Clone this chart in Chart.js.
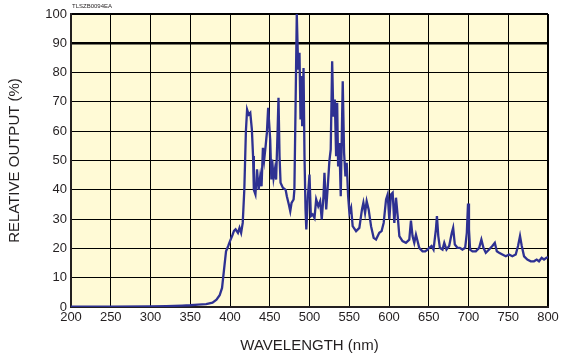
<!DOCTYPE html>
<html>
<head>
<meta charset="utf-8">
<script src="https://cdn.jsdelivr.net/npm/chart.js@4.4.1/dist/chart.umd.min.js"></script>
<style>
  body { margin: 0; background: #fff; }
  #wrap { width: 563px; height: 355px; }
</style>
</head>
<body>
<div id="wrap"><canvas id="spectre" width="563" height="355"></canvas></div>
<script>
// Longueurs d'onde (nm) et sortie relative (%)
const wavelengths = [
  200, 250, 300, 320, 340, 350, 360, 370, 378, 383, 387, 390, 393, 395, 398, 400,
  403, 405, 407, 410, 412, 414, 416, 418, 420, 421.5, 423.5, 425.5, 427.5, 429, 430,
  432, 434, 436, 438, 439.7, 441.4, 443, 444.8, 446.4, 448, 450.6, 452, 453, 454.8,
  456.5, 458, 459.8, 461, 462.3, 463.6, 466.5, 470, 471.5, 474, 475.8, 477.4, 480,
  481, 482.4, 484, 485.8, 487.4, 488.7, 490, 490.8, 492.5, 493.7, 495, 496, 498, 500,
  501.7, 504, 506.3, 508.4, 511, 513.4, 515.4, 517.6, 518.8, 521, 523, 525, 526.7,
  528.5, 530, 531.8, 533.5, 534.8, 536, 537.6, 539.3, 541.8, 543.5, 545.2, 546.8,
  548.6, 550.2, 552.3, 554.3, 558.6, 562.7, 566, 567.8, 569.9, 571.9, 574.4, 577.4,
  580.7, 583.7, 587.8, 590.7, 593.3, 596.3, 598.3, 600.4, 602.5, 604.6, 606.7, 608.8,
  611.3, 613, 617, 621.3, 625.5, 627.6, 629.6, 631.8, 633.9, 635.9, 638, 642.2, 645.6,
  648.5, 650.6, 653.5, 656, 659, 660.3, 662, 664, 667.3, 669.5, 672.3, 675.7, 679,
  680.7, 682.8, 686.1, 689, 692.4, 695.8, 697.9, 699.4, 700.6, 702, 705, 709.2, 713.4,
  716.2, 718.8, 721.8, 725.9, 730, 733.1, 735.6, 738.5, 742.6, 746.9, 751, 755.2,
  759.4, 762.3, 764.8, 767, 769.9, 774, 778.3, 782.4, 785.8, 788.7, 792, 795, 798, 800
];
const relativeOutput = [
  0.1, 0.1, 0.2, 0.3, 0.5, 0.6, 0.8, 1.0, 1.5, 2.5, 4, 6.5, 14, 19, 21, 22.5,
  24.5, 26, 26.5, 25.3, 27, 25.3, 28.7, 40, 60, 67.4, 65.7, 66.3, 60.6, 51.5, 40,
  38.4, 47, 40, 44.6, 41.2, 54.3, 50.3, 54.9, 59.5, 68, 57, 43.5, 50.3, 44,
  47, 43.5, 59.5, 71.4, 51.5, 42.4, 40.7, 40, 37.8, 35, 32.7, 35.5, 36.7,
  40, 67, 100, 81, 86.8, 64, 78.8, 61.7, 81.6, 51.5, 33.3, 26.5, 37.8, 45.2,
  31, 31.6, 30.4, 36.7, 34.4, 36.1, 29.9, 37.8, 45.8, 33.3, 41.2, 49.8, 53.8,
  83.9, 65, 70.8, 51.5, 69.7, 48, 56, 37.8, 77, 52.6, 44.6, 49.2,
  37.8, 32.1, 33.9, 27.6, 25.9, 27, 33.3, 35.6, 32.1, 36.1, 33.3, 27.6,
  23.6, 23, 25.3, 25.9, 28.7, 36.7, 38.4, 29.9, 38.4, 39, 28.7, 37.3,
  29.9, 24.2, 22.5, 21.9, 23, 29.5, 24.2, 21.9, 24.7, 22.5, 20.2, 19, 19,
  19.6, 20.2, 20.8, 19.6, 26.5, 31, 24.2, 20.2, 19.6, 21.9, 19.6, 20.8, 25.3,
  27, 21.3, 20.2, 20.2, 19.6, 20.2, 25.3, 35.3, 26.5, 19.6, 19, 19, 20.2,
  23, 20.2, 18.5, 19.6, 20.8, 21.9, 19, 18.5, 17.9, 17.3, 17.9, 17.3,
  17.9, 20.8, 24.2, 20.8, 17.3, 16.2, 15.6, 15.6, 16.2, 15.6, 16.8, 16.2, 16.8, 17
];
const xTicks = [200, 250, 300, 350, 400, 450, 500, 550, 600, 650, 700, 750, 800];
const yTicks = [0, 10, 20, 30, 40, 50, 60, 70, 80, 90, 100];

const couleurTrait = '#2e3192';
const couleurTexte = '#231f20';

// Fond jaune pâle de la zone de tracé + référence du document
const fondZone = {
    id: 'fondZone',
    beforeDraw(chart) {
        const { ctx, chartArea: a } = chart;
        ctx.save();
        ctx.fillStyle = '#fffad6';
        ctx.fillRect(a.left, a.top, a.right - a.left, a.bottom - a.top);
        ctx.fillStyle = couleurTexte;
        ctx.font = '6px "Liberation Sans", Arial, sans-serif';
        ctx.textBaseline = 'middle';
        ctx.fillText('TLSZB0094EA', a.left + 1, 6);
        ctx.restore();
    }
};

new Chart(document.getElementById('spectre').getContext('2d'), {
    type: 'line',
    data: {
        datasets: [{
            data: wavelengths.map((w, i) => ({ x: w, y: relativeOutput[i] })),
            borderColor: couleurTrait,
            borderWidth: 2.3,
            pointRadius: 0,
            tension: 0,
            fill: false
        }]
    },
    options: {
        responsive: false,
        animation: false,
        layout: { padding: { top: 14, right: 15, bottom: 0, left: 0 } },
        plugins: { legend: { display: false }, tooltip: { enabled: false } },
        scales: {
            x: {
                type: 'linear',
                min: 200,
                max: 800,
                afterBuildTicks: s => { s.ticks = xTicks.map(v => ({ value: v })); },
                afterFit: s => { s.height = 48; },
                grid: {
                    color: '#000',
                    drawTicks: false,
                    lineWidth: c => (c.tick && c.tick.value === 800 ? 2 : 1)
                },
                border: { color: couleurTexte, width: 2 },
                ticks: {
                    padding: 3,
                    color: couleurTexte,
                    font: { family: '"Liberation Sans", Arial, sans-serif', size: 13 }
                },
                title: {
                    display: true,
                    text: 'WAVELENGTH (nm)',
                    color: couleurTexte,
                    font: { family: '"Liberation Sans", Arial, sans-serif', size: 15 },
                    padding: { top: 0, bottom: 0 }
                }
            },
            y: {
                min: 0,
                max: 100,
                afterBuildTicks: s => { s.ticks = yTicks.map(v => ({ value: v })); },
                afterFit: s => { s.width = 71; },
                grid: {
                    color: '#000',
                    drawTicks: false,
                    lineWidth: c => {
                        if (!c.tick) return 1;
                        if (c.tick.value === 90) return 2.5;
                        if (c.tick.value === 100) return 2;
                        return 1;
                    }
                },
                border: { color: couleurTexte, width: 2 },
                ticks: {
                    padding: 4,
                    color: couleurTexte,
                    font: { family: '"Liberation Sans", Arial, sans-serif', size: 13 }
                },
                title: {
                    display: true,
                    text: 'RELATIVE OUTPUT (%)',
                    color: couleurTexte,
                    font: { family: '"Liberation Sans", Arial, sans-serif', size: 15 },
                    padding: { top: 6, bottom: 0 }
                }
            }
        }
    },
    plugins: [fondZone]
});
</script>
</body>
</html>
